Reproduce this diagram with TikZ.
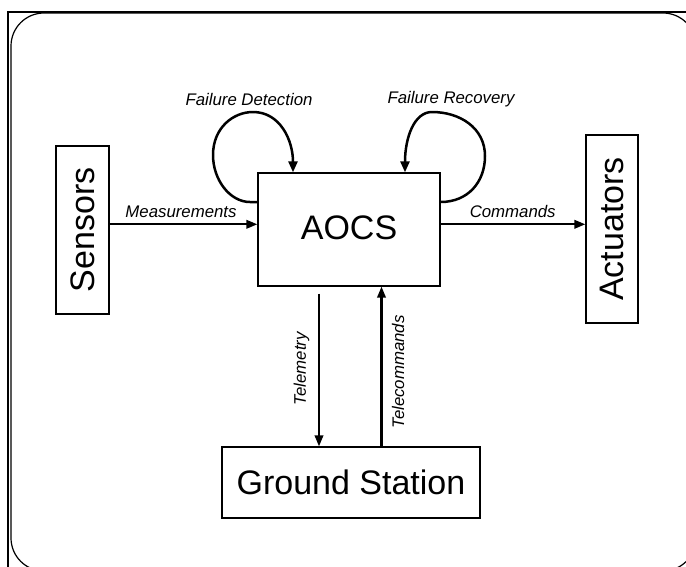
\documentclass[tikz,border=0pt]{standalone}
\usepackage{fontspec}
\setmainfont{Liberation Sans}
\usetikzlibrary{arrows.meta}
\begin{document}
\begin{tikzpicture}[x=1pt,y=-1pt,
  box/.style={draw, line width=1.3pt, inner sep=0pt, font=\fontsize{34}{40}\selectfont},
  lbl/.style={font=\fontsize{16.8}{19}\selectfont\itshape, inner sep=0pt},
  arr/.style={line width=2.1pt, -{Triangle[length=11pt,width=8.5pt]}},
  loopy/.style={line width=2.5pt, -{Triangle[length=11pt,width=9pt]}}]
\useasboundingbox (0,0) rectangle (686,566);
\fill[white] (0,0) rectangle (686,566);
\clip (0,0) rectangle (686,566);
% frame
\draw[line width=1.2pt, rounded corners=33pt] (11,13) rectangle (696,571);
\draw[line width=2.5pt, line join=miter] (8,570) -- (8,12) -- (690,12);
% boxes
\node[box, minimum width=53pt, minimum height=168pt] (sensors) at (82.5,230) {\rotatebox{90}{Sensors}};
\node[box, minimum width=182pt, minimum height=113pt, text depth=4pt] (aocs) at (349,229.5) {AOCS};
\node[box, minimum width=52pt, minimum height=188pt] (actuators) at (612,229) {\rotatebox{90}{Actuators}};
\node[box, minimum width=258pt, minimum height=71pt] (ground) at (351,482.5) {Ground Station};
% helper coordinates
\coordinate (ym) at (0,224.3);
\coordinate (xt) at (319,0);
\coordinate (xc) at (381.5,0);
\coordinate (ly) at (0,202);
\coordinate (fd) at (293,0);
\coordinate (fr) at (405,0);
% connectors
\draw[arr] (sensors.east |- ym) -- (aocs.west |- ym);
\draw[arr] (aocs.east |- ym) -- (actuators.west |- ym);
\draw[arr, shorten <=7pt] (aocs.south -| xt) -- (ground.north -| xt);
\draw[arr] (ground.north -| xc) -- (aocs.south -| xc);
% loops
\draw[loopy] (aocs.west |- ly) -- (250,202) .. controls (230,202) and (213,180) .. (213,155)
  .. controls (213,128) and (233,112) .. (253,112)
  .. controls (280,112) and (293,140) .. (aocs.north -| fd);
\draw[loopy] (aocs.east |- ly) .. controls (468,202) and (485,182) .. (485,156)
  .. controls (485,128) and (460,112) .. (432,112)
  .. controls (414,112) and (405,138) .. (aocs.north -| fr);
% labels
\node[lbl] (fdl) at (249,99) {Failure Detection};
\node[lbl] (frl) at (451,99) {Failure Recovery};
\node[lbl] (ml) at (181,211.7) {Measurements};
\node[lbl] (cl) at (512.7,211) {Commands};
\node[lbl, rotate=90] (tl) at (301.5,368.7) {Telemetry};
\node[lbl, rotate=90] (tcl) at (398,372) {Telecommands};
\end{tikzpicture}
\end{document}
